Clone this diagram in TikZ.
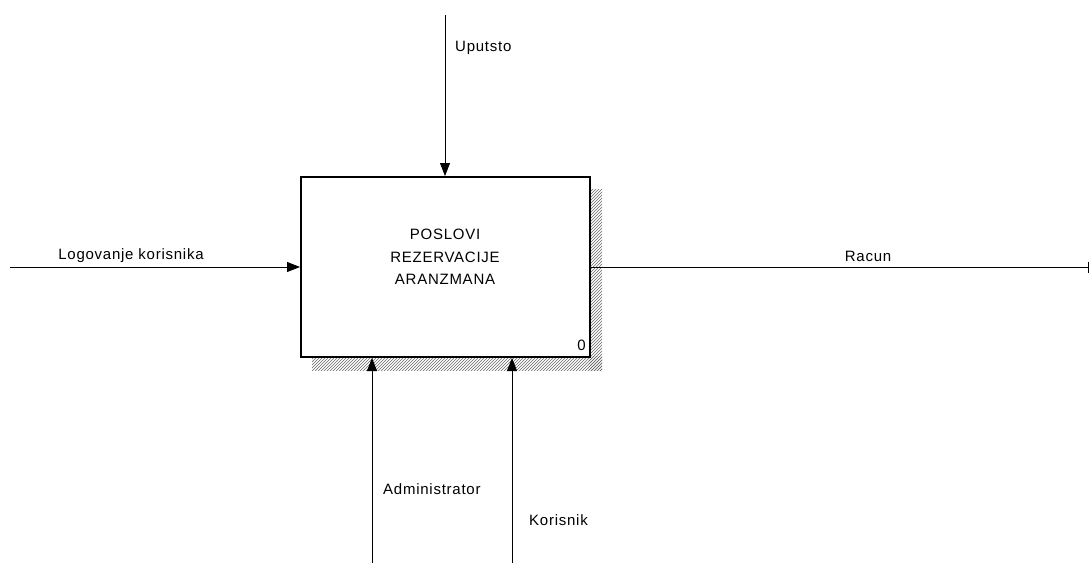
\documentclass[tikz,border=0pt]{standalone}
\usepackage{fontspec}
\setmainfont{Liberation Sans}[LetterSpace=5]
\usetikzlibrary{arrows.meta,patterns}
\begin{document}
\begin{tikzpicture}[x=1pt,y=-1pt,
  lbl/.style={inner sep=0pt,font=\fontsize{15}{17}\selectfont},
  flow/.style={line width=0.8pt,-{Triangle[length=13pt,width=10pt]}},
  shadowbox/.style={pattern=north east lines,pattern color=black!60,draw=none}]
\useasboundingbox (0,0) rectangle (1091,563);
% shadow
\fill[shadowbox] (589,189) rectangle (602,370);
\fill[shadowbox] (312,356) rectangle (602,370);
% box
\node[draw,line width=2pt,fill=white,minimum width=289pt,minimum height=180pt,inner sep=0pt,anchor=north west] (box) at (300,176) {};
\node[lbl,align=center,font=\fontsize{15}{22.5}\selectfont] (title) at (445,257) {POSLOVI\\REZERVACIJE\\ARANZMANA};
\node[lbl,anchor=south east] (num) at (586,351) {0};
% coordinates
\coordinate (ctrl) at (445,15);
\coordinate (inp) at (10,267);
\coordinate (outp) at (1089,267);
\coordinate (m1) at (372,563);
\coordinate (m2) at (512,563);
% connectors
\draw[flow] (ctrl) -- (box.north -| ctrl);
\draw[flow] (inp) -- (box.west |- inp);
\draw[line width=0.8pt,-{Bar[width=11pt,line width=0.8pt]}] (box.east |- outp) -- (outp);
\draw[flow] (m1) -- (box.south -| m1);
\draw[flow] (m2) -- (box.south -| m2);
% labels
\node[lbl,anchor=west] (lctrl) at (455,48) {Uputsto};
\node[lbl] (linp) at (131,256) {Logovanje korisnika};
\node[lbl] (loutp) at (868,256) {Racun};
\node[lbl,anchor=west] (lm1) at (383,489) {Administrator};
\node[lbl,anchor=west] (lm2) at (529,520) {Korisnik};
\end{tikzpicture}
\end{document}
